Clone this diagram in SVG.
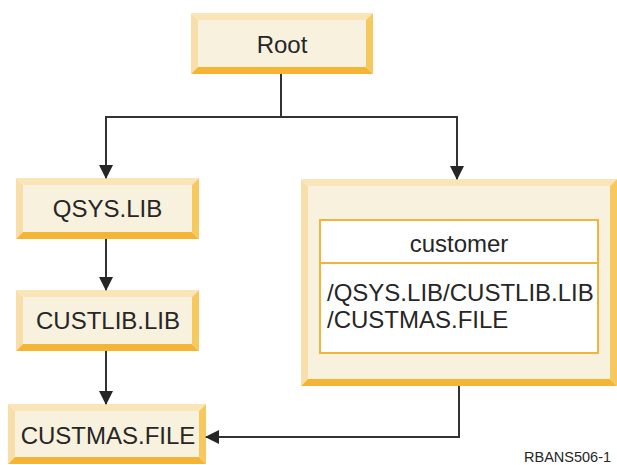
<svg xmlns="http://www.w3.org/2000/svg" width="617" height="465" viewBox="0 0 617 465">
<style>
.bt{fill:#f9e5b8}.bl{fill:#f8dfa9}.br{fill:#f6c95e}.bb{fill:#f4b536}.face{fill:#f7f1de}
.lbl{font-family:"Liberation Sans",Arial,sans-serif;font-size:24px;fill:#262626;text-anchor:middle}
.path{font-family:"Liberation Sans",Arial,sans-serif;font-size:24px;fill:#262626}
.conn{fill:none;stroke:#333;stroke-width:2}
</style>
<defs>
<marker id="ah" viewBox="0 0 14 14" refX="13" refY="7" markerWidth="14" markerHeight="14" markerUnits="userSpaceOnUse" orient="auto">
<path d="M0,0 L14,7 L0,14 Z" fill="#262626"/>
</marker>
</defs>
<rect width="617" height="465" fill="#fff"/>
<g id="root">
<polygon class="bt" points="191,13 373,13 366,20 198,20"/>
<polygon class="bl" points="191,13 198,20 198,67 191,74"/>
<polygon class="br" points="373,13 373,74 366,67 366,20"/>
<polygon class="bb" points="191,74 198,67 366,67 373,74"/>
<rect class="face" x="198" y="20" width="168" height="47"/>
<text class="lbl" x="282" y="53">Root</text>
</g>
<g id="qsys">
<polygon class="bt" points="16,178 199,178 192,185 23,185"/>
<polygon class="bl" points="16,178 23,185 23,232 16,239"/>
<polygon class="br" points="199,178 199,239 192,232 192,185"/>
<polygon class="bb" points="16,239 23,232 192,232 199,239"/>
<rect class="face" x="23" y="185" width="169" height="47"/>
<text class="lbl" x="107.5" y="217">QSYS.LIB</text>
</g>
<g id="custlib">
<polygon class="bt" points="16,290 199,290 192,297 23,297"/>
<polygon class="bl" points="16,290 23,297 23,344 16,351"/>
<polygon class="br" points="199,290 199,351 192,344 192,297"/>
<polygon class="bb" points="16,351 23,344 192,344 199,351"/>
<rect class="face" x="23" y="297" width="169" height="47"/>
<text class="lbl" x="108" y="329">CUSTLIB.LIB</text>
</g>
<g id="custmas">
<polygon class="bt" points="8,404 206,404 199,411 15,411"/>
<polygon class="bl" points="8,404 15,411 15,457 8,464"/>
<polygon class="br" points="206,404 206,464 199,457 199,411"/>
<polygon class="bb" points="8,464 15,457 199,457 206,464"/>
<rect class="face" x="15" y="411" width="184" height="46"/>
<text class="lbl" x="108" y="444">CUSTMAS.FILE</text>
</g>
<g id="customer">
<polygon class="bt" points="301,179 617,179 610,186 308,186"/>
<polygon class="bl" points="301,179 308,186 308,379 301,386"/>
<polygon class="br" points="617,179 617,386 610,379 610,186"/>
<polygon class="bb" points="301,386 308,379 610,379 617,386"/>
<rect class="face" x="308" y="186" width="302" height="193"/>
<rect x="320" y="220" width="278" height="133" fill="#fff" stroke="#f2b53a" stroke-width="2"/>
<line x1="320" y1="263" x2="598" y2="263" stroke="#f2b53a" stroke-width="2"/>
<text class="lbl" x="459" y="252">customer</text>
<text class="path" x="327" y="301">/QSYS.LIB/CUSTLIB.LIB</text>
<text class="path" x="327" y="328">/CUSTMAS.FILE</text>
</g>
<g id="connectors">
<polyline class="conn" points="281,74 281,117 106,117 106,178" marker-end="url(#ah)"/>
<polyline class="conn" points="281,117 457,117 457,179" marker-end="url(#ah)"/>
<line class="conn" x1="106" y1="239" x2="106" y2="290" marker-end="url(#ah)"/>
<line class="conn" x1="106" y1="351" x2="106" y2="404" marker-end="url(#ah)"/>
<polyline class="conn" points="459,386 459,437 206,437" marker-end="url(#ah)"/>
</g>
<text x="524" y="462" font-family="Liberation Sans,Arial,sans-serif" font-size="14.5" fill="#262626">RBANS506-1</text>
</svg>
